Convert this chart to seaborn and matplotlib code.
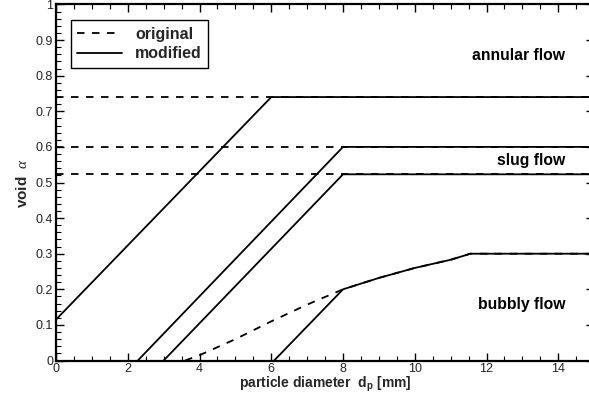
import numpy as np
import pandas as pd
import matplotlib
matplotlib.use("Agg")
import matplotlib.pyplot as plt
from matplotlib.ticker import MultipleLocator, FuncFormatter
from matplotlib.lines import Line2D
import seaborn as sns

# Flow-regime transition voids (original criteria, constant in d_p)
annular_void = 0.74
slug_upper_void = 0.60
slug_lower_void = 0.523

# Original bubbly/slug boundary (curve in d_p)
bubbly_orig_d = [3.6, 4.0, 5.0, 6.0, 7.0, 8.0, 9.0, 10.0, 11.0, 11.55, 15.0]
bubbly_orig_a = [0.0, 0.015, 0.06, 0.11, 0.157, 0.2, 0.232, 0.26, 0.283, 0.3, 0.3]

# Modified criteria: linear ramps that join the original boundaries
annular_mod_d = [0.0, 6.0, 15.0]
annular_mod_a = [0.115, 0.74, 0.74]
slug_upper_mod_d = [2.28, 8.0, 15.0]
slug_upper_mod_a = [0.0, 0.60, 0.60]
slug_lower_mod_d = [3.0, 8.0, 15.0]
slug_lower_mod_a = [0.0, 0.523, 0.523]
bubbly_mod_d = [6.08, 8.0, 9.0, 10.0, 11.0, 11.55, 15.0]
bubbly_mod_a = [0.0, 0.2, 0.232, 0.26, 0.283, 0.3, 0.3]

region_labels = ["annular flow", "slug flow", "bubbly flow"]
region_pos = [(14.2, 0.858), (14.2, 0.563), (14.2, 0.156)]

sns.set_theme(style="ticks")
plt.rcParams["font.family"] = ["Liberation Sans", "DejaVu Sans"]
plt.rcParams["mathtext.fontset"] = "custom"
plt.rcParams["mathtext.rm"] = "Liberation Sans:bold"
plt.rcParams["mathtext.it"] = "Liberation Serif:italic"
plt.rcParams["lines.scale_dashes"] = False

fig = plt.figure(figsize=(5.89, 3.98), dpi=100)
ax = fig.add_axes([0.0951, 0.0942, 1.0088 - 0.0951, 0.9887 - 0.0942])

orig = pd.DataFrame({
    "seg": ["annular"] * 2 + ["slug_u"] * 2 + ["slug_l"] * 2 + ["bubbly"] * len(bubbly_orig_d),
    "d": [0.0, 15.0, 0.0, 15.0, 0.0, 15.0] + bubbly_orig_d,
    "a": [annular_void] * 2 + [slug_upper_void] * 2 + [slug_lower_void] * 2 + bubbly_orig_a,
})
mod = pd.DataFrame({
    "seg": ["annular"] * 3 + ["slug_u"] * 3 + ["slug_l"] * 3 + ["bubbly"] * len(bubbly_mod_d),
    "d": annular_mod_d + slug_upper_mod_d + slug_lower_mod_d + bubbly_mod_d,
    "a": annular_mod_a + slug_upper_mod_a + slug_lower_mod_a + bubbly_mod_a,
})

lw = 1.3
dash = (5.4, 5.4)
for seg, g in orig.groupby("seg", sort=False):
    sns.lineplot(data=g, x="d", y="a", ax=ax, color="black", lw=lw,
                 sort=False, estimator=None, dashes=False)
    ax.lines[-1].set_dashes(dash)
for seg, g in mod.groupby("seg", sort=False):
    sns.lineplot(data=g, x="d", y="a", ax=ax, color="black", lw=lw,
                 sort=False, estimator=None)

for txt, (x, y) in zip(region_labels, region_pos):
    ax.text(x, y, txt, ha="right", va="center", fontsize=11.3,
            fontweight="bold", color="black")

ax.set_xlim(0, 15)
ax.set_ylim(0, 1)
ax.xaxis.set_major_locator(MultipleLocator(2))
ax.xaxis.set_minor_locator(MultipleLocator(0.5))
ax.yaxis.set_major_locator(MultipleLocator(0.1))
ax.yaxis.set_minor_locator(MultipleLocator(0.02))
ax.yaxis.set_major_formatter(FuncFormatter(lambda v, p: f"{v:g}"))
ax.xaxis.set_major_formatter(FuncFormatter(lambda v, p: f"{v:g}"))
ax.tick_params(which="both", direction="in", top=True, right=True,
               colors="black", labelcolor="#222222", labelsize=9, pad=2)
ax.tick_params(which="major", length=6, width=1)
ax.tick_params(which="minor", length=3.5, width=0.8)
for sp in ax.spines.values():
    sp.set_visible(True)
    sp.set_color("black")
    sp.set_linewidth(1.6)

ax.set_xlabel(r"particle diameter  d$_\mathrm{p}$ [mm]", fontsize=10,
              fontweight="bold", labelpad=0)
ax.set_ylabel(r"void  $\alpha$", fontsize=11, fontweight="bold", labelpad=4)

handles = [Line2D([], [], color="black", lw=lw, dashes=dash),
           Line2D([], [], color="black", lw=lw)]
leg = ax.legend(handles, ["original", "modified"], loc="upper left",
                bbox_to_anchor=(0.028, 0.956), borderaxespad=0,
                frameon=True, fancybox=False, edgecolor="black",
                framealpha=1, handlelength=2.8, handletextpad=0.8,
                borderpad=0.4, labelspacing=0.3,
                prop={"weight": "bold", "size": 11.5})
leg.get_frame().set_linewidth(1.0)

fig.savefig("out.png", dpi=100)
